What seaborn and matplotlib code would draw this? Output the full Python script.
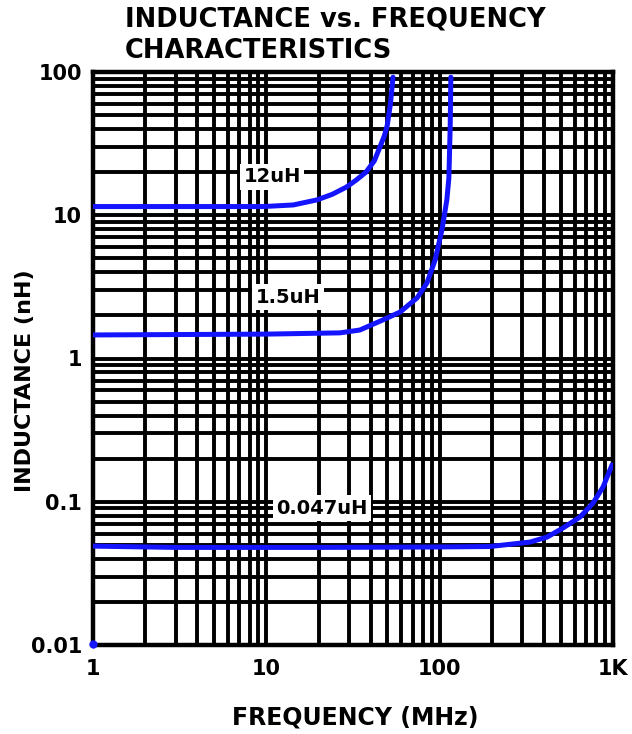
import numpy as np
import pandas as pd
import matplotlib
matplotlib.use("Agg")
import matplotlib.pyplot as plt
import seaborn as sns
from matplotlib.ticker import LogLocator, FixedLocator, FixedFormatter, NullFormatter

# ---- data ----
freq_12uH = [1, 5, 9.6, 14.3, 19.6, 24, 28.9, 33, 37.6, 42, 45.2, 48, 49.9, 52, 53.8]
ind_12uH = [11.5, 11.5, 11.5, 11.8, 12.8, 14.0, 15.7, 17.6, 20.0, 24.0, 29.9, 36.0, 42.7, 60.0, 92.0]

freq_1_5uH = [1, 10, 26.6, 34.6, 47.1, 59.1, 74.1, 84.5, 94.1, 103, 110, 113, 115, 116]
ind_1_5uH = [1.46, 1.48, 1.51, 1.58, 1.86, 2.11, 2.65, 3.37, 4.87, 7.88, 12.8, 18.2, 41.3, 92.0]

freq_0_047uH = [1, 3, 20, 88, 195, 332, 417, 515, 646, 768, 877, 988]
ind_0_047uH = [0.049, 0.048, 0.048, 0.0483, 0.0487, 0.0523, 0.0567, 0.0656, 0.0783, 0.098, 0.127, 0.181]

curve_labels = ["12uH", "1.5uH", "0.047uH"]
label_x = [10.8, 13.4, 21.0]
label_y = [18.5, 2.68, 0.0904]

corner_dot_x = [1.0]
corner_dot_y = [0.0101]

x_ticks = [1, 10, 100, 1000]
x_ticklabels = ["1", "10", "100", "1K"]
y_ticks = [0.01, 0.1, 1, 10, 100]
y_ticklabels = ["0.01", "0.1", "1", "10", "100"]

title = "INDUCTANCE vs. FREQUENCY\nCHARACTERISTICS"
xlabel = "FREQUENCY (MHz)"
ylabel = "INDUCTANCE (nH)"

# ---- build frame ----
frames = []
for name, f, l in [(curve_labels[0], freq_12uH, ind_12uH),
                   (curve_labels[1], freq_1_5uH, ind_1_5uH),
                   (curve_labels[2], freq_0_047uH, ind_0_047uH)]:
    frames.append(pd.DataFrame({"freq": f, "ind": l, "part": name}))
df = pd.concat(frames, ignore_index=True)

sns.set_style("white")
plt.rcParams['font.family'] = ['DejaVu Sans']
plt.rcParams['text.color'] = 'black'
plt.rcParams['axes.labelcolor'] = 'black'
plt.rcParams['xtick.color'] = 'black'
plt.rcParams['ytick.color'] = 'black'

fig = plt.figure(figsize=(6.32, 7.34), dpi=100)
ax = fig.add_axes([93/632, 1 - 645/734, (613 - 93)/632, (645 - 72)/734])

ax.set_xscale("log")
ax.set_yscale("log")

blue = "#1414ff"
for name in curve_labels:
    sub = df[df["part"] == name]
    sns.lineplot(data=sub, x="freq", y="ind", ax=ax, color=blue, lw=3.6,
                 sort=False, estimator=None, zorder=5, legend=False)

sns.scatterplot(x=corner_dot_x, y=corner_dot_y, ax=ax, color=blue, s=30,
                edgecolor=blue, zorder=6, legend=False, clip_on=False)

ax.set_xlim(1, 1000)
ax.set_ylim(0.01, 100)

ax.xaxis.set_major_locator(FixedLocator(x_ticks))
ax.xaxis.set_major_formatter(FixedFormatter(x_ticklabels))
ax.xaxis.set_minor_locator(LogLocator(base=10, subs=np.arange(2, 10)))
ax.xaxis.set_minor_formatter(NullFormatter())
ax.yaxis.set_major_locator(FixedLocator(y_ticks))
ax.yaxis.set_major_formatter(FixedFormatter(y_ticklabels))
ax.yaxis.set_minor_locator(LogLocator(base=10, subs=np.arange(2, 10)))
ax.yaxis.set_minor_formatter(NullFormatter())

ax.grid(which="both", color="black", lw=2.8)
ax.set_axisbelow(True)
for s in ax.spines.values():
    s.set_color("black")
    s.set_linewidth(3.2)

ax.tick_params(which="both", length=0)
ax.tick_params(axis="x", pad=10, labelsize=15)
ax.tick_params(axis="y", pad=8, labelsize=15)
for t in ax.get_xticklabels() + ax.get_yticklabels():
    t.set_fontweight("bold")
    t.set_color("black")

for name, lx, ly in zip(curve_labels, label_x, label_y):
    ax.text(lx, ly, name, ha="center", va="center", fontsize=14, fontweight="bold",
            color="black", zorder=7,
            bbox=dict(facecolor="white", edgecolor="none", pad=2.5))

ax.set_xlabel(xlabel, fontsize=17, fontweight="bold", color="black", va="center")
ax.xaxis.set_label_coords(0.504, (645 - 717) / 573)
ax.set_ylabel(ylabel, fontsize=16, fontweight="bold", color="black", va="center")
ax.yaxis.set_label_coords((25 - 93) / 520, (645 - 381) / 573)

fig.text(125/632, 1 - 7/734, title, ha="left", va="top", fontsize=18.5,
         fontweight="bold", linespacing=1.25, color="black")

fig.savefig("out.png", dpi=100)
